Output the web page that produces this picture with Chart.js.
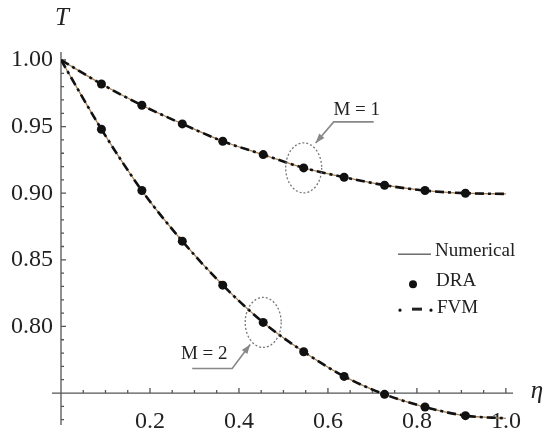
<!DOCTYPE html>
<html>
<head>
<meta charset="utf-8">
<script src="https://cdn.jsdelivr.net/npm/chart.js@4"></script>
<style>
  body { margin: 0; background: #fff; }
  #wrap { width: 549px; height: 433px; }
</style>
</head>
<body>
<div id="wrap"><canvas id="tChart" width="549" height="433"></canvas></div>
<script>
// --- data ---
const eta = [0, 0.0909, 0.1818, 0.2727, 0.3636, 0.4545, 0.5455, 0.6364, 0.7273, 0.8182, 0.9091, 1.0];
const numericalM1 = [1.000, 0.982, 0.966, 0.952, 0.939, 0.929, 0.919, 0.912, 0.906, 0.902, 0.900, 0.8995];
const numericalM2 = [1.000, 0.948, 0.902, 0.864, 0.831, 0.803, 0.781, 0.7625, 0.749, 0.7395, 0.733, 0.731];
const fvmM1 = [1.000, 0.982, 0.966, 0.952, 0.939, 0.929, 0.919, 0.912, 0.906, 0.902, 0.900, 0.8995];
const fvmM2 = [1.000, 0.948, 0.902, 0.864, 0.831, 0.803, 0.781, 0.7625, 0.749, 0.7395, 0.733, 0.731];
const etaDRA = [0.0909, 0.1818, 0.2727, 0.3636, 0.4545, 0.5455, 0.6364, 0.7273, 0.8182, 0.9091];
const draM1 = [0.982, 0.966, 0.952, 0.939, 0.929, 0.919, 0.912, 0.906, 0.902, 0.900];
const draM2 = [0.948, 0.902, 0.864, 0.831, 0.803, 0.781, 0.7625, 0.749, 0.7395, 0.733];

const xTicks = [0.2, 0.4, 0.6, 0.8, 1.0];
const yTicks = [0.80, 0.85, 0.90, 0.95, 1.00];
const legendLabels = ['Numerical', 'DRA', 'FVM'];
const curveLabels = ['M = 1', 'M = 2'];

const SERIF = '"Liberation Serif", "DejaVu Serif", serif';
const NUM_COLOR = '#a57f55';
const AXIS_COLOR = '#555';

const pts = (xs, ys) => xs.map((x, i) => ({ x, y: ys[i] }));

// --- axes, ticks, legend, callouts ---
const decoPlugin = {
    id: 'deco',
    beforeDatasetsDraw(chart) {
        const { ctx, scales: { x, y } } = chart;
        const x0 = x.getPixelForValue(0);
        const y0 = y.getPixelForValue(0.75);
        ctx.save();
        ctx.strokeStyle = AXIS_COLOR;
        ctx.lineWidth = 1.3;
        ctx.beginPath();
        ctx.moveTo(x0, y.top);
        ctx.lineTo(x0, y.bottom);
        ctx.moveTo(x0 - 9, y0);
        ctx.lineTo(x.right, y0);
        // x ticks every 0.05, pointing up
        for (let i = 1; i <= 20; i++) {
            const px = x.getPixelForValue(i * 0.05);
            const len = i % 4 === 0 ? 5 : 3;
            ctx.moveTo(px, y0);
            ctx.lineTo(px, y0 - len);
        }
        // y ticks every 0.01, pointing right
        for (let i = 73; i <= 100; i++) {
            const py = y.getPixelForValue(i / 100);
            const len = i % 5 === 0 ? 5 : 3;
            ctx.moveTo(x0, py);
            ctx.lineTo(x0 + len, py);
        }
        ctx.stroke();
        ctx.restore();
    },
    afterDraw(chart) {
        const { ctx, scales: { x, y }, chartArea } = chart;
        ctx.save();

        // axis titles
        ctx.fillStyle = '#222';
        ctx.font = 'italic 25px ' + SERIF;
        ctx.textAlign = 'center';
        ctx.textBaseline = 'middle';
        ctx.fillText('T', x.getPixelForValue(0) + 1, 18);
        ctx.fillText('η', chartArea.right + 24, y.getPixelForValue(0.75) - 2);

        // legend
        const lx = chartArea.right - 115;
        const ly = y.getPixelForValue(0.855) - 2;
        ctx.strokeStyle = '#222';
        ctx.lineWidth = 1;
        ctx.beginPath();
        ctx.moveTo(lx, ly + 3);
        ctx.lineTo(lx + 33, ly + 3);
        ctx.stroke();
        ctx.fillStyle = '#111';
        ctx.beginPath();
        ctx.arc(lx + 15, ly + 33, 4, 0, Math.PI * 2);
        ctx.fill();
        ctx.beginPath();
        ctx.arc(lx + 2, ly + 59, 1.6, 0, Math.PI * 2);
        ctx.arc(lx + 33, ly + 59, 1.6, 0, Math.PI * 2);
        ctx.fill();
        ctx.lineWidth = 3;
        ctx.beginPath();
        ctx.moveTo(lx + 14, ly + 58);
        ctx.lineTo(lx + 24, ly + 58);
        ctx.stroke();
        ctx.font = '19px ' + SERIF;
        ctx.textAlign = 'left';
        ctx.fillStyle = '#222';
        ctx.fillText(legendLabels[0], lx + 37, ly);
        ctx.fillText(legendLabels[1], lx + 38, ly + 30);
        ctx.fillText(legendLabels[2], lx + 39, ly + 57);

        // callouts: dotted ellipse round a DRA point, leader line + arrow to it
        const callout = (ex, ey, label, tx, ty, u0, u1, uy, ax, ay) => {
            const cx = x.getPixelForValue(ex);
            const cy = y.getPixelForValue(ey);
            ctx.strokeStyle = '#777';
            ctx.lineWidth = 1.3;
            ctx.setLineDash([2, 2]);
            ctx.beginPath();
            ctx.ellipse(cx, cy, 18, 25, 0, 0, Math.PI * 2);
            ctx.stroke();
            ctx.setLineDash([]);
            ctx.strokeStyle = '#888';
            ctx.lineWidth = 1.6;
            const su = Math.abs(u0) < Math.abs(u1) ? u0 : u1;
            const ou = su === u0 ? u1 : u0;
            ctx.beginPath();
            ctx.moveTo(cx + ou, cy + uy);
            ctx.lineTo(cx + su, cy + uy);
            ctx.lineTo(cx + ax, cy + ay);
            ctx.stroke();
            // arrow head
            const ang = Math.atan2(ay - uy, ax - su);
            ctx.fillStyle = '#888';
            ctx.beginPath();
            ctx.moveTo(cx + ax, cy + ay);
            ctx.lineTo(cx + ax - 10 * Math.cos(ang - 0.35), cy + ay - 10 * Math.sin(ang - 0.35));
            ctx.lineTo(cx + ax - 10 * Math.cos(ang + 0.35), cy + ay - 10 * Math.sin(ang + 0.35));
            ctx.closePath();
            ctx.fill();
            ctx.fillStyle = '#222';
            ctx.font = '19px ' + SERIF;
            ctx.textAlign = 'center';
            ctx.fillText(label, cx + tx, cy + ty);
        };
        callout(etaDRA[5], draM1[5], curveLabels[0], 53, -58, 30, 70, -46, 12, -25);
        callout(etaDRA[4], draM2[4], curveLabels[1], -59, 32, -71, -31, 46, -13, 22);

        ctx.restore();
    }
};

const tickFont = { family: SERIF, size: 24 };

new Chart(document.getElementById('tChart'), {
    type: 'line',
    data: {
        datasets: [
            { label: 'DRA M=1', type: 'scatter', data: pts(etaDRA, draM1), pointRadius: 4.5, pointBackgroundColor: '#111', pointBorderWidth: 0, showLine: false },
            { label: 'DRA M=2', type: 'scatter', data: pts(etaDRA, draM2), pointRadius: 4.5, pointBackgroundColor: '#111', pointBorderWidth: 0, showLine: false },
            { label: 'FVM M=1', data: pts(eta, fvmM1), borderColor: '#111', borderWidth: 2.6, borderDash: [9, 4, 3, 4], pointRadius: 0, cubicInterpolationMode: 'monotone' },
            { label: 'FVM M=2', data: pts(eta, fvmM2), borderColor: '#111', borderWidth: 2.6, borderDash: [9, 4, 3, 4], pointRadius: 0, cubicInterpolationMode: 'monotone' },
            { label: 'Numerical M=1', data: pts(eta, numericalM1), borderColor: NUM_COLOR, borderWidth: 1.3, pointRadius: 0, cubicInterpolationMode: 'monotone' },
            { label: 'Numerical M=2', data: pts(eta, numericalM2), borderColor: NUM_COLOR, borderWidth: 1.3, pointRadius: 0, cubicInterpolationMode: 'monotone' }
        ]
    },
    options: {
        responsive: false,
        animation: false,
        devicePixelRatio: 1,
        layout: { padding: { left: 0, top: 52, right: 36, bottom: 8 } },
        scales: {
            x: {
                type: 'linear',
                min: 0,
                max: 1.016,
                position: { y: 0.75 },
                grid: { display: false, drawTicks: false },
                border: { display: false },
                afterFit: s => { s.height = 0; },
                afterBuildTicks: s => { s.ticks = xTicks.map(v => ({ value: v })); },
                ticks: { font: tickFont, color: '#222', padding: 14, maxRotation: 0, autoSkip: false, callback: v => v.toFixed(1) }
            },
            y: {
                type: 'linear',
                min: 0.726,
                max: 1.006,
                position: 'left',
                grid: { display: false, drawTicks: false },
                border: { display: false },
                afterFit: s => { s.width = 61; s.paddingTop = 0; s.paddingBottom = 0; },
                afterBuildTicks: s => { s.ticks = yTicks.map(v => ({ value: v })); },
                ticks: { font: tickFont, color: '#222', padding: 8, autoSkip: false, callback: v => v.toFixed(2) }
            }
        },
        plugins: {
            legend: { display: false },
            tooltip: { enabled: false }
        }
    },
    plugins: [decoPlugin]
});
</script>
</body>
</html>
